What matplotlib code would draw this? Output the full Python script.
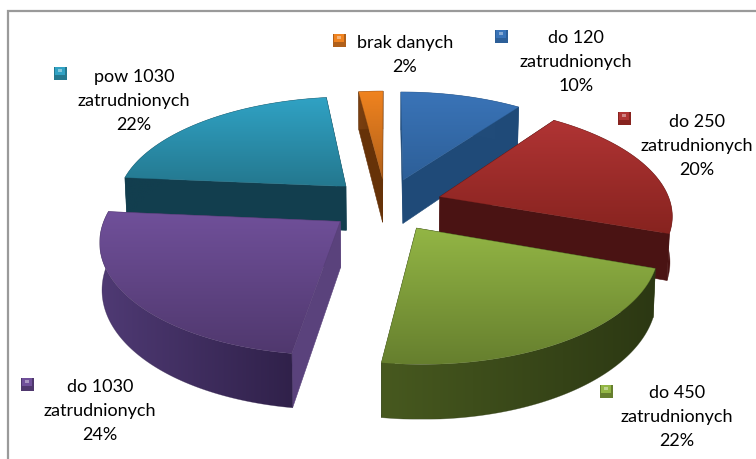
import numpy as np
import matplotlib
matplotlib.use("Agg")
import matplotlib.pyplot as plt
from matplotlib.colors import LinearSegmentedColormap
from matplotlib.patches import Polygon, Rectangle

# ---- data ----
categories = ["do 120\nzatrudnionych", "do 250\nzatrudnionych", "do 450\nzatrudnionych",
              "do 1030\nzatrudnionych", "pow 1030\nzatrudnionych", "brak danych"]
shares = [10.0, 20.4, 21.9, 24.1, 21.6, 2.0]
share_labels = ["10%", "20%", "22%", "24%", "22%", "2%"]

# ---- styles ----
top_colors = ["#3a74b8 #2d5f98", "#b03434 #87231f", "#93b645 #667f2e",
              "#70509a #50386e", "#30a2c4 #24788f", "#f0831f #b0601a"]
top_colors = [c.split() for c in top_colors]
radial_colors = ["#1f4a78", "#4a1313", "#35441a", "#5a427c", "#123e4e", "#663208"]
rim_colors = [("#244f7d", "#1f4a78"), ("#5a1717", "#4a1313"), ("#47591f", "#2c3813"),
              ("#4f3a74", "#30214a"), ("#123e4e", "#123e4e"), ("#7a3f10", "#663208")]
key_pos = [(501, 36), (624, 118), (606, 391), (27, 384), (60, 73), (339, 40)]
label_pos = [(576, 62), (697, 146), (677, 417), (100, 411), (134, 101), (405, 55)]
draw_order = [0, 5, 4, 1, 3, 2]

CX, CY, RX, RY, K, EXPL, DEPTH = 386, 204.5, 231, 108, 0.15, 0.247, 45

fig = plt.figure(figsize=(7.56, 4.59), dpi=100)
ax = fig.add_axes([0, 0, 1, 1])
ax.set_xlim(0, 756)
ax.set_ylim(459, 0)
ax.axis("off")

ax.plot([8, 8, 756], [459, 11, 11], color="#9a9a9a", lw=1.6, solid_joinstyle="miter", zorder=1)


def project(u, v, low=False):
    w = 1 + K * v
    x = CX + RX * u / w
    y = CY - RY * v / w
    if low:
        x = CX + (x - CX) * 0.992
        y = y + DEPTH / w
    return x, y


def gradient_poly(xs, ys, c0, c1, zo, horizontal=False):
    cmap = LinearSegmentedColormap.from_list("g", [c0, c1])
    poly = Polygon(np.column_stack([xs, ys]), closed=True, facecolor="none", edgecolor="none", zorder=zo)
    ax.add_patch(poly)
    grad = np.linspace(0, 1, 128)
    grad = grad[None, :] if horizontal else grad[:, None]
    im = ax.imshow(grad, cmap=cmap, aspect="auto", zorder=zo,
                   extent=(min(xs), max(xs), max(ys), min(ys)), interpolation="bilinear")
    im.set_clip_path(poly)
    edge = Polygon(np.column_stack([xs, ys]), closed=True, facecolor="none",
                   edgecolor=c1, lw=0.4, alpha=0.5, zorder=zo + 0.1)
    ax.add_patch(edge)


fractions = np.array(shares, dtype=float) / sum(shares)
edges = np.concatenate([[0], np.cumsum(fractions)]) * 2 * np.pi

z = 2
for i in draw_order:
    a0, a1 = edges[i], edges[i + 1]
    mid = (a0 + a1) / 2
    ox, oy = EXPL * np.sin(mid), EXPL * np.cos(mid)
    t = np.linspace(a0, a1, 80)
    u, v = np.sin(t) + ox, np.cos(t) + oy
    xt, yt = project(u, v)
    xb, yb = project(u, v, low=True)
    ax_, ay_ = project(ox, oy)
    bx_, by_ = project(ox, oy, low=True)

    # radial cut faces
    for k in (0, -1):
        ax.add_patch(Polygon([(ax_, ay_), (xt[k], yt[k]), (xb[k], yb[k]), (bx_, by_)], closed=True,
                             facecolor=radial_colors[i], edgecolor=radial_colors[i], lw=0.4, zorder=z))
    z += 1
    # outer rim
    gradient_poly(np.r_[xt, xb[::-1]], np.r_[yt, yb[::-1]], rim_colors[i][0], rim_colors[i][1], z, horizontal=True)
    z += 1
    # upper face
    gradient_poly(np.r_[ax_, xt], np.r_[ay_, yt], top_colors[i][0], top_colors[i][1], z)
    z += 1

for i, name in enumerate(categories):
    kx, ky = key_pos[i]
    c0, c1 = top_colors[i]
    ax.add_patch(Rectangle((kx - 6.5, ky - 6.5), 13, 13, facecolor=c1, edgecolor="none", zorder=50))
    ax.add_patch(Rectangle((kx - 5, ky - 6), 10, 8, facecolor=c0, edgecolor="none", zorder=51))
    ax.add_patch(Rectangle((kx - 2, ky - 4.5), 4, 3, facecolor="#ffffff", alpha=0.4, edgecolor="none", zorder=52))
    ax.text(label_pos[i][0], label_pos[i][1], f"{name}\n{share_labels[i]}", ha="center", va="center",
            family="Lato", fontsize=13, color="#000000", linespacing=1.65, zorder=60)

fig.savefig("out.png", dpi=100)
